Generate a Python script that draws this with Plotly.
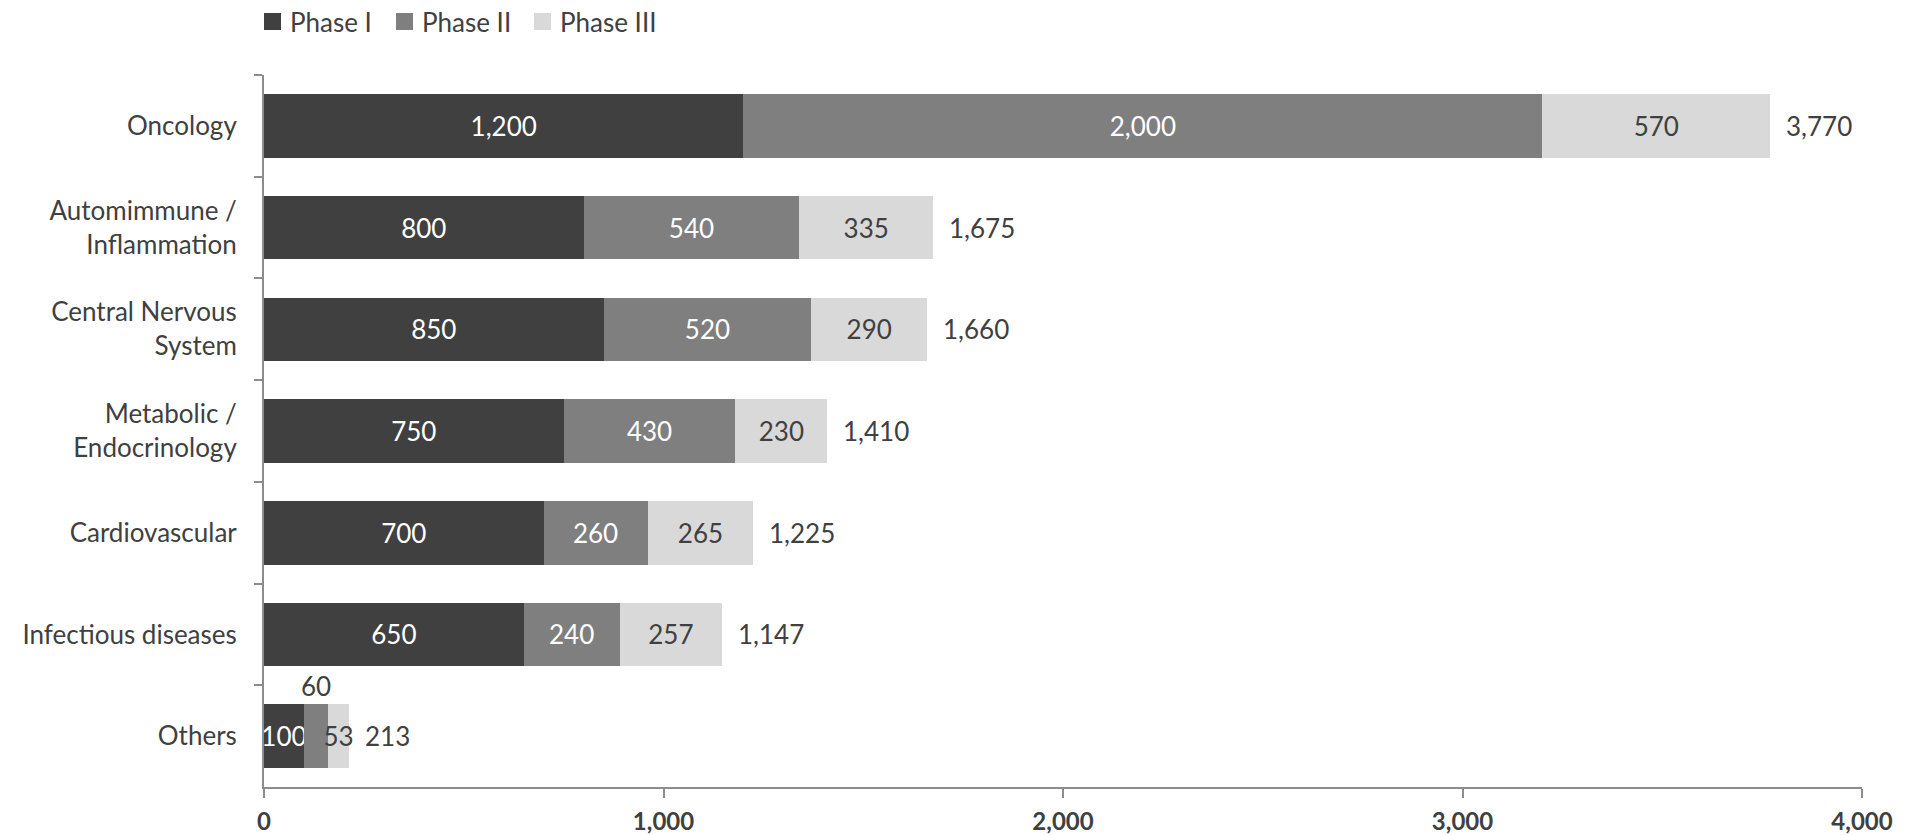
import plotly.graph_objects as go

# Therapeutic areas (top to bottom) and pipeline counts per phase
categories = [
    "Oncology",
    "Automimmune /<br>Inflammation",
    "Central Nervous<br>System",
    "Metabolic /<br>Endocrinology",
    "Cardiovascular",
    "Infectious diseases",
    "Others",
]
phase1 = [1200, 800, 850, 750, 700, 650, 100]
phase2 = [2000, 540, 520, 430, 260, 240, 60]
phase3 = [570, 335, 290, 230, 265, 257, 53]
totals = [3770, 1675, 1660, 1410, 1225, 1147, 213]
x_ticks = [0, 1000, 2000, 3000, 4000]

series_names = ["Phase I", "Phase II", "Phase III"]
colors = ["#404040", "#7f7f7f", "#d9d9d9"]
text_colors = ["#ffffff", "#ffffff", "#404040"]

FONT = "Lato"
LABEL_COLOR = "#404040"
AXIS_COLOR = "#8c8c8c"

fig = go.Figure()

for name, vals, col, tcol in zip(series_names, [phase1, phase2, phase3], colors, text_colors):
    # segments too narrow for their label get it drawn above instead
    texts = []
    for cat, v in zip(categories, vals):
        if name == "Phase II" and cat == "Others":
            texts.append("")
        else:
            texts.append(f"{v:,}")
    fig.add_trace(go.Bar(
        name=name,
        y=categories,
        x=vals,
        orientation="h",
        marker=dict(color=col, line=dict(width=0)),
        text=texts,
        textposition="inside",
        insidetextanchor="middle",
        textangle=0,
        constraintext="none",
        cliponaxis=False,
        textfont=dict(family=FONT, size=26, color=tcol),
        hoverinfo="skip",
        showlegend=False,
    ))

annotations = []
# totals to the right of each stacked bar
for cat, tot in zip(categories, totals):
    annotations.append(dict(
        x=tot, y=cat, xref="x", yref="y",
        text=f"{tot:,}", showarrow=False,
        xanchor="left", xshift=14,
        font=dict(family=FONT, size=26, color=LABEL_COLOR),
    ))

# Phase II label for "Others", placed above its thin segment
others_i = categories.index("Others")
annotations.append(dict(
    x=phase1[others_i] + phase2[others_i] / 2, y=categories[others_i],
    xref="x", yref="y", text=f"{phase2[others_i]:,}", showarrow=False,
    xanchor="center", yshift=50,
    font=dict(family=FONT, size=26, color=LABEL_COLOR),
))

# Legend built from swatches and labels along the top edge
legend_items = [
    (264, 288, "Phase I", colors[0]),
    (396, 420, "Phase II", colors[1]),
    (534, 558, "Phase III", colors[2]),
]
W, H = 1912, 835
L, R, T, B = 264, 50, 75, 48
pw, ph = W - L - R, H - T - B
shapes = []
for sx, tx, label, col in legend_items:
    shapes.append(dict(
        type="rect", xref="paper", yref="paper",
        x0=(sx - L) / pw, x1=(sx + 17 - L) / pw,
        y0=(T - 30) / ph + 1, y1=(T - 13) / ph + 1,
        fillcolor=col, line=dict(width=0),
    ))
    annotations.append(dict(
        x=(tx - L) / pw, y=(T - 22) / ph + 1, xref="paper", yref="paper",
        text=label, showarrow=False, xanchor="left", yanchor="middle",
        font=dict(family=FONT, size=26, color=LABEL_COLOR),
    ))

fig.update_layout(
    width=W, height=H,
    margin=dict(l=L, r=R, t=T, b=B, autoexpand=False),
    barmode="stack",
    bargap=0.375,
    plot_bgcolor="white",
    paper_bgcolor="white",
    annotations=annotations,
    shapes=shapes,
    showlegend=False,
    font=dict(family=FONT, color=LABEL_COLOR),
)

fig.update_xaxes(
    range=[0, 4000],
    tickvals=x_ticks,
    ticktext=[f"<b>{v:,}</b>" for v in x_ticks],
    showgrid=False, zeroline=False,
    showline=True, linecolor=AXIS_COLOR, linewidth=2,
    ticks="outside", ticklen=9, tickwidth=2, tickcolor=AXIS_COLOR,
    tickfont=dict(family=FONT, size=24, color=LABEL_COLOR),
    ticklabelstandoff=3,
    automargin=False,
)
fig.update_yaxes(
    categoryorder="array", categoryarray=categories,
    range=[len(categories) - 0.5, -0.5],
    showgrid=False, zeroline=False,
    showline=True, linecolor=AXIS_COLOR, linewidth=2,
    ticks="outside", tickson="boundaries", ticklen=8, tickwidth=2, tickcolor=AXIS_COLOR,
    tickfont=dict(family=FONT, size=26, color=LABEL_COLOR),
    ticklabelstandoff=20,
    automargin=False,
)

fig.write_html("out.html")
